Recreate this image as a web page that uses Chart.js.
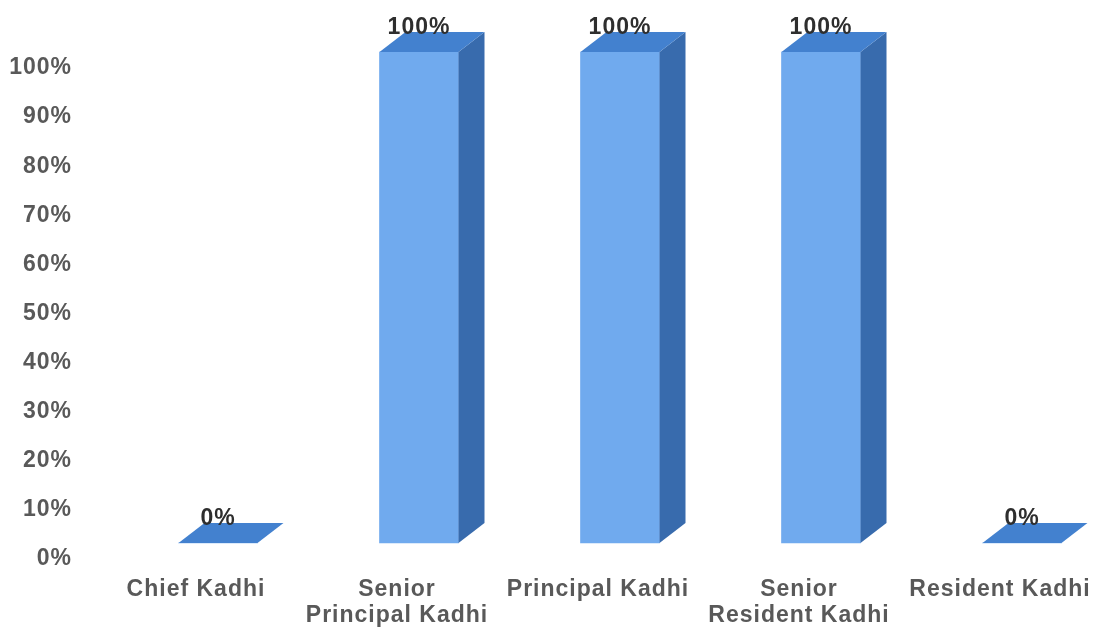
<!DOCTYPE html>
<html>
<head>
<meta charset="utf-8">
<script src="https://cdn.jsdelivr.net/npm/chart.js@4.4.1/dist/chart.umd.min.js"></script>
<style>
	html, body { margin: 0; padding: 0; background: #fff; }
	#wrap { width: 1097px; height: 628px; position: relative; }
</style>
</head>
<body>
<div id="wrap"><canvas id="barchart"></canvas></div>
<script>
// Données
const categories = [
	'Chief Kadhi',
	['Senior', 'Principal Kadhi'],
	'Principal Kadhi',
	['Senior', 'Resident Kadhi'],
	'Resident Kadhi'
];
const values = [0, 100, 100, 100, 0];
const yMin = 0;
const yMax = 100;
const yStep = 10;

// Couleurs des faces de la barre 3D
const frontColour = '#70aaee';
const topColour = '#4381cf';
const sideColour = '#386bad';
const depthX = 26;
const depthY = -20;

const labelFont = { family: '"Liberation Sans", Arial, sans-serif', size: 23, weight: 'bold', lineHeight: 1.13 };

// Plugin : dessine le dessus et le côté des barres, puis les étiquettes de valeur
const bar3d = {
	id: 'bar3d',
	beforeLayout(chart) {
		chart.ctx.letterSpacing = '1px';
	},
	beforeDraw(chart) {
		chart.ctx.letterSpacing = '1px';
	},
	afterDatasetsDraw(chart) {
		const ctx = chart.ctx;
		const meta = chart.getDatasetMeta(0);
		ctx.save();
		meta.data.forEach((bar, i) => {
			const l = bar.x - bar.width / 2;
			const r = bar.x + bar.width / 2;
			const t = bar.y;
			const b = bar.base;

			// côté droit
			ctx.fillStyle = sideColour;
			ctx.beginPath();
			ctx.moveTo(r, t);
			ctx.lineTo(r + depthX, t + depthY);
			ctx.lineTo(r + depthX, b + depthY);
			ctx.lineTo(r, b);
			ctx.closePath();
			ctx.fill();

			// dessus
			ctx.fillStyle = topColour;
			ctx.beginPath();
			ctx.moveTo(l, t);
			ctx.lineTo(l + depthX, t + depthY);
			ctx.lineTo(r + depthX, t + depthY);
			ctx.lineTo(r, t);
			ctx.closePath();
			ctx.fill();

			// étiquette
			ctx.fillStyle = '#2e2e2e';
			ctx.font = 'bold 23px "Liberation Sans", Arial, sans-serif';
			ctx.textAlign = 'center';
			ctx.textBaseline = 'middle';
			ctx.fillText(values[i] + '%', bar.x, t - 24);
		});
		ctx.restore();
	}
};

new Chart(document.getElementById('barchart'), {
	type: 'bar',
	data: {
		labels: categories,
		datasets: [{
			data: values,
			backgroundColor: frontColour,
			borderWidth: 0,
			barThickness: 79,
			clip: false
		}]
	},
	options: {
		responsive: true,
		maintainAspectRatio: false,
		animation: false,
		layout: {
			padding: { left: 10, right: 75, top: 52, bottom: 0 }
		},
		scales: {
			x: {
				offset: false,
				grid: { display: false },
				border: { display: false },
				ticks: {
					color: '#595959',
					font: labelFont,
					padding: 26,
					labelOffset: -22,
					maxRotation: 0,
					autoSkip: false
				},
				afterFit: (s) => {
					s.height = 85;
					s.paddingLeft = 0;
					s.paddingRight = 0;
				}
			},
			y: {
				min: yMin,
				max: yMax,
				grid: { display: false, drawTicks: false },
				border: { display: false },
				ticks: {
					stepSize: yStep,
					color: '#595959',
					font: labelFont,
					padding: 146,
					labelOffset: 16,
					callback: (v) => v + '%'
				},
				afterFit: (s) => {
					s.width = 208;
					s.paddingTop = 0;
					s.paddingBottom = 0;
				}
			}
		},
		plugins: {
			legend: { display: false },
			tooltip: { enabled: false }
		}
	},
	plugins: [bar3d]
});
</script>
</body>
</html>
